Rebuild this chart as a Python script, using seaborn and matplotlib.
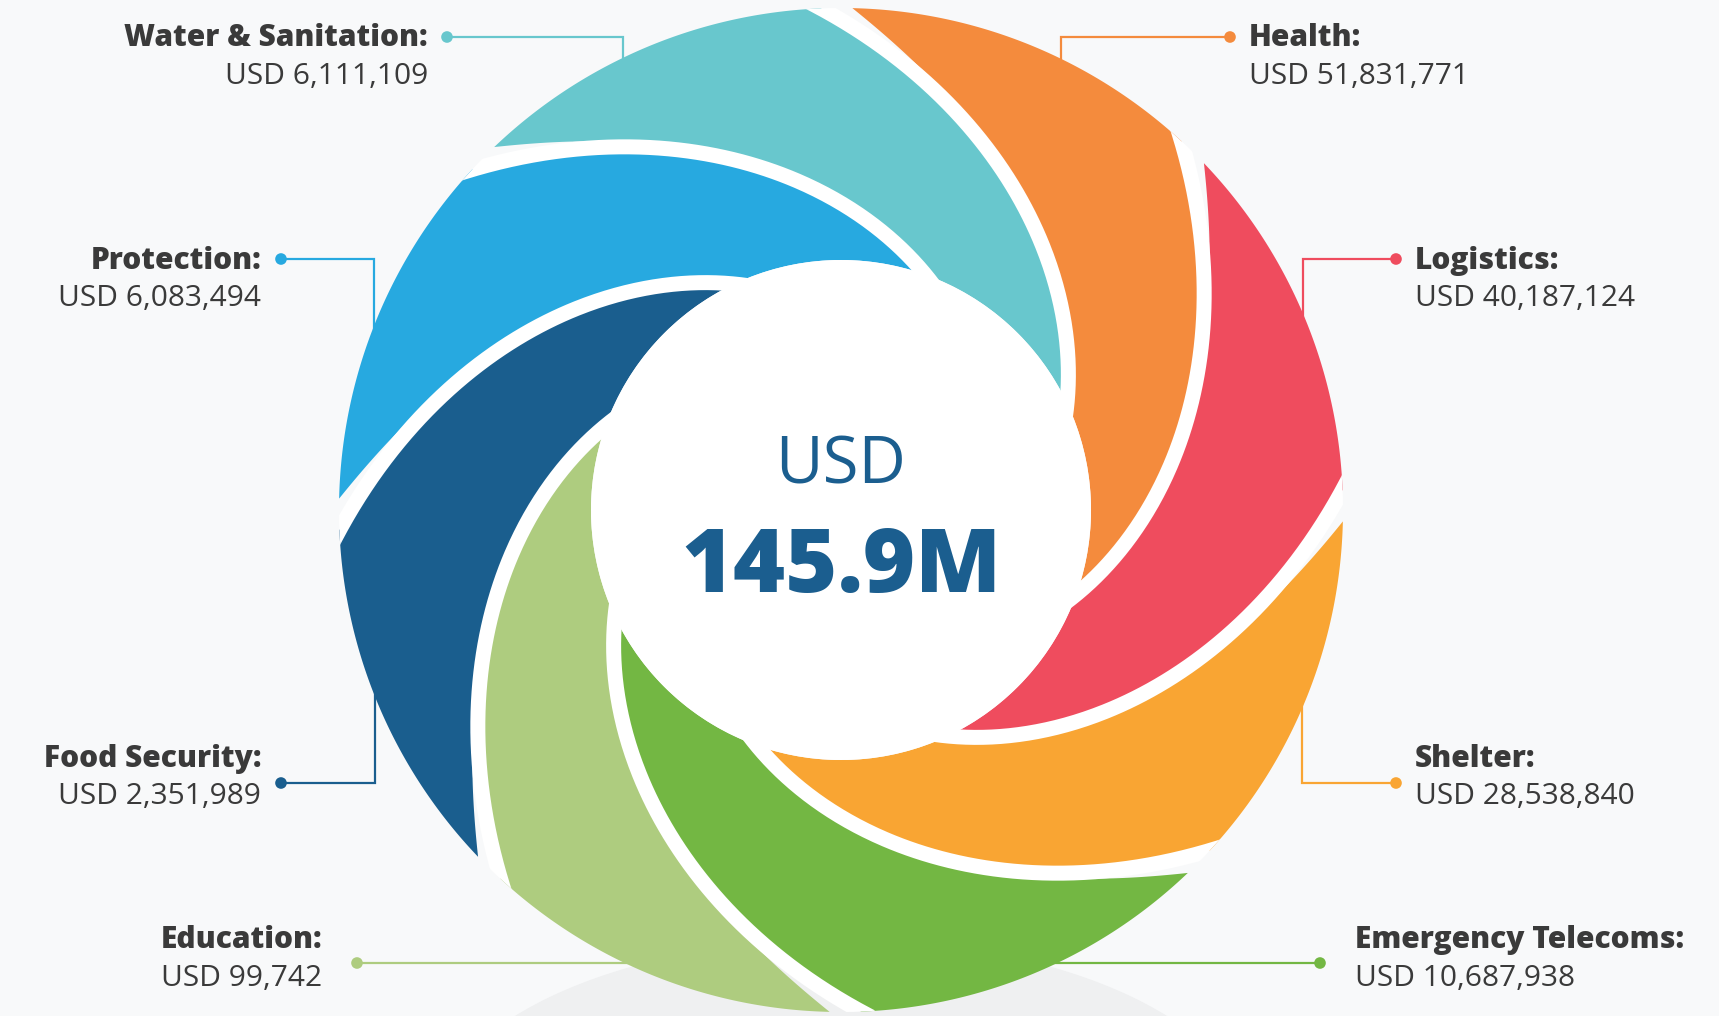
import numpy as np
import pandas as pd
import matplotlib
matplotlib.use("Agg")
import matplotlib.pyplot as plt
import seaborn as sns
from matplotlib.patches import Polygon, Circle, Ellipse

# data (clockwise from Health)
sectors = ["Health", "Logistics", "Shelter", "Emergency Telecoms",
           "Education", "Food Security", "Protection", "Water & Sanitation"]
amounts = [51831771, 40187124, 28538840, 10687938,
           99742, 2351989, 6083494, 6111109]
colours = ["#F48B3D", "#EF4C5E", "#F9A533", "#73B743",
           "#AECC7F", "#1A5E8E", "#27A9E0", "#68C7CD"]
total_txt = "145.9M"

# label layout (pixels): text x, text align, title y, dot x, dot y, elbow x, elbow end y
text_x = [1249, 1415, 1415, 1355, 322, 261, 261, 428]
text_ha = ["left", "left", "left", "left", "right", "right", "right", "right"]
title_y = [38, 261, 759, 940, 940, 759, 261, 38]
dot_x = [1230, 1396, 1396, 1320, 357, 281, 281, 447]
dot_y = [37, 259, 783, 963, 963, 783, 259, 37]
elbow_x = [1061, 1303, 1302, 1050, 632, 375, 374, 623]
elbow_end = [70, 325, 695, 963, 963, 690, 330, 70]

W, H = 1719, 1016
CX, CY = 841, 510
R_OUT, R_IN = 502, 250
SWEEP = 67.0                       # degrees a swirl turns from rim to hub
K = np.log(R_OUT / R_IN) / SWEEP
START = 47.3                       # rim angle of first petal's cut edge
STEP = 360.0 / len(sectors)
GAP = 15                           # white gap width in px
TIP_CUT = 3.6                      # extra opening (deg) at the outer tips

sns.set_theme(style="white")
plt.rcParams["font.family"] = ["Open Sans", "DejaVu Sans"]
pal = sns.color_palette(colours)


def xy(theta_deg, r):
    t = np.radians(theta_deg)
    return CX + r * np.cos(t), CY - r * np.sin(t)


def swirl(phi, extra=0.0, n=200):
    th = np.linspace(phi - SWEEP - extra, phi + extra, n)
    r = R_IN * np.exp(K * (th - (phi - SWEEP)))
    return th, r


fig = plt.figure(figsize=(W / 100, H / 100), dpi=100)
fig.patch.set_facecolor("#F8F9FA")
ax = fig.add_axes([0, 0, 1, 1])
ax.set_xlim(0, W)
ax.set_ylim(H, 0)
ax.set_aspect("equal")
ax.axis("off")

# soft floor shadow
ax.add_patch(Ellipse((CX, 1135), 820, 390, color="#EFF0F1", zorder=0))

# leader lines + dots
for i in range(len(sectors)):
    ax.plot([dot_x[i], elbow_x[i], elbow_x[i]], [dot_y[i], dot_y[i], elbow_end[i]],
            color=pal[i], lw=1.6, zorder=1, solid_joinstyle="miter")
dots = pd.DataFrame({"x": dot_x, "y": dot_y, "sector": sectors})
sns.scatterplot(data=dots, x="x", y="y", hue="sector", palette=colours,
                s=70, edgecolor="none", legend=False, ax=ax, zorder=2)

# petals
for i, (name, col) in enumerate(zip(sectors, pal)):
    phi = START - i * STEP
    th1, r1 = swirl(phi)
    th2, r2 = swirl(phi + STEP)
    th2 = th2 - TIP_CUT * ((r2 - R_IN) / (R_OUT - R_IN)) ** 3
    arc_o = np.linspace(phi, th2[-1], 80)
    arc_i = np.linspace(th2[0], phi - SWEEP, 80)
    th = np.concatenate([th1, arc_o, th2[::-1], arc_i])
    rr = np.concatenate([r1, np.full(80, R_OUT), r2[::-1], np.full(80, R_IN)])
    px, py = xy(th, rr)
    ax.add_patch(Polygon(np.column_stack([px, py]), closed=True,
                         facecolor=col, edgecolor="none", zorder=3))

# white gaps between petals
rim = Circle((CX, CY), R_OUT, transform=ax.transData)
for i in range(len(sectors)):
    th, r = swirl(START - i * STEP, extra=6)
    gx, gy = xy(th, r)
    ln, = ax.plot(gx, gy, color="white", lw=GAP * 0.72, zorder=4,
                  solid_capstyle="butt")
    ln.set_clip_path(rim)

ax.add_patch(Circle((CX, CY), R_IN, facecolor="white", edgecolor="none", zorder=5))

# centre total
ax.text(CX, 467, "USD", ha="center", va="center", fontsize=47,
        fontweight="normal", color="#1B5E8F", zorder=6)
ax.text(CX, 569, total_txt, ha="center", va="center", fontsize=64,
        fontweight="extra bold", color="#1B5E8F", zorder=6)

# labels
for i, name in enumerate(sectors):
    ax.text(text_x[i], title_y[i], name + ":", ha=text_ha[i], va="center",
            fontsize=21.5, fontweight="extra bold", color="#3A3A3A", zorder=6)
    ax.text(text_x[i], title_y[i] + 38, f"USD {amounts[i]:,}", ha=text_ha[i],
            va="center", fontsize=21.5, color="#3A3A3A", zorder=6)

fig.savefig("out.png", dpi=100, facecolor=fig.get_facecolor())
